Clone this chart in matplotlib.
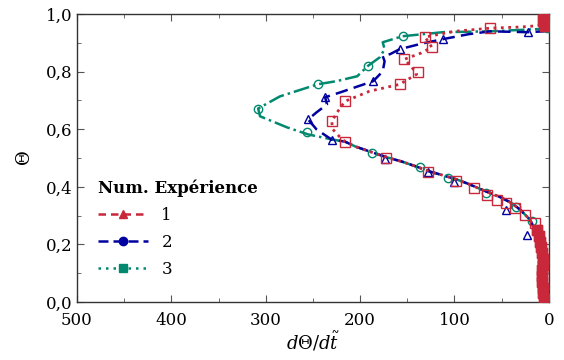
import matplotlib
matplotlib.use("Agg")
import matplotlib.pyplot as plt
from matplotlib.lines import Line2D
from matplotlib.ticker import MultipleLocator, FuncFormatter

plt.rcParams['font.family'] = ['DejaVu Serif']
plt.rcParams['mathtext.fontset'] = 'dejavuserif'

RED = '#c8283a'
BLUE = '#0000a0'
GREEN = '#00896f'

# shared lower branch of numerical curves (dTheta/dt, Theta)
low_x = [3, 5, 6, 7, 9, 13, 20, 30, 40, 52, 62, 73, 85, 97, 112, 126, 140, 155, 172, 190, 205, 216]
low_y = [0.0, 0.05, 0.10, 0.15, 0.20, 0.24, 0.286, 0.32, 0.345, 0.365, 0.378, 0.393, 0.41, 0.425,
         0.44, 0.453, 0.47, 0.487, 0.503, 0.523, 0.54, 0.557]

# series 1 (red)
num1_x = low_x + [222, 229, 230, 224, 216, 190, 158, 140, 145, 153, 135, 124, 131, 100, 62, 30, 10, 5, 3, 2]
num1_y = low_y + [0.575, 0.60, 0.627, 0.66, 0.697, 0.732, 0.756, 0.791, 0.815, 0.843, 0.865, 0.885,
                  0.92, 0.94, 0.951, 0.955, 0.96, 0.97, 0.98, 1.0]
exp1_x = [5, 6, 6, 7, 7, 7, 6, 6, 7, 8, 9, 10, 12, 15, 25, 36, 45, 55, 65, 79, 98, 128, 172, 216,
          230, 216, 158, 139, 153, 124, 131, 62, 4, 5, 6, 4, 5]
exp1_y = [0.01, 0.03, 0.05, 0.07, 0.09, 0.11, 0.13, 0.15, 0.17, 0.19, 0.21, 0.23, 0.25, 0.275, 0.303,
          0.328, 0.345, 0.355, 0.373, 0.397, 0.42, 0.453, 0.50, 0.557, 0.627, 0.697, 0.756, 0.798,
          0.843, 0.885, 0.92, 0.951, 0.96, 0.97, 0.98, 0.99, 1.0]

# series 2 (blue)
num2_x = low_x + [230, 246, 255, 246, 235, 237, 221, 186, 176, 174, 176, 168, 158, 135, 112, 85, 62,
                  22, 5, 2, 1]
num2_y = low_y + [0.564, 0.599, 0.634, 0.659, 0.686, 0.711, 0.728, 0.767, 0.801, 0.836, 0.854, 0.861,
                  0.878, 0.897, 0.913, 0.93, 0.94, 0.937, 0.94, 0.96, 1.0]
exp2_x = [4, 6, 8, 23, 45, 100, 128, 174, 230, 255, 237, 186, 158, 112, 22]
exp2_y = [0.05, 0.12, 0.19, 0.233, 0.32, 0.418, 0.45, 0.495, 0.564, 0.634, 0.711, 0.767, 0.878, 0.913, 0.937]

# series 3 (green)
num3_x = low_x + [229, 255, 277, 306, 308, 285, 245, 225, 203, 192, 179, 174, 176, 155, 112, 62, 10, 3, 1]
num3_y = low_y + [0.564, 0.582, 0.606, 0.645, 0.672, 0.714, 0.756, 0.767, 0.784, 0.819, 0.85, 0.878,
                  0.902, 0.923, 0.937, 0.94, 0.948, 0.96, 1.0]
exp3_x = [5, 7, 10, 18, 35, 66, 107, 137, 187, 256, 308, 245, 192, 155, 2]
exp3_y = [0.06, 0.14, 0.22, 0.28, 0.33, 0.38, 0.43, 0.47, 0.519, 0.589, 0.672, 0.756, 0.819, 0.923, 0.95]

legend_labels = ['1', '2', '3']

fig = plt.figure(figsize=(5.64, 3.6), dpi=100)
ax = fig.add_axes([0.1365, 0.161, 0.8365, 0.8])

ax.plot(num3_x, num3_y, color=GREEN, ls='-.', lw=1.8, zorder=2)
ax.plot(exp3_x, exp3_y, ls='none', marker='o', ms=6, mfc='none', mec=GREEN, mew=1.0, zorder=3)
ax.plot(num2_x, num2_y, color=BLUE, ls=(0, (5, 2.5)), lw=1.8, zorder=2)
ax.plot(exp2_x, exp2_y, ls='none', marker='^', ms=6, mfc='none', mec=BLUE, mew=1.0, zorder=3)
ax.plot(num1_x, num1_y, color=RED, ls=':', lw=2.0, zorder=4)
ax.plot(exp1_x, exp1_y, ls='none', marker='s', ms=6.5, mfc='none', mec=RED, mew=1.0, zorder=5)
# dense overlapping experimental markers near zero
ax.plot(exp1_x[:13], exp1_y[:13], ls='none', marker='s', ms=7.5, mfc=RED, mec=RED, mew=1.0, zorder=5)
ax.plot(exp1_x[-5:], exp1_y[-5:], ls='none', marker='s', ms=7.5, mfc=RED, mec=RED, mew=1.0, zorder=5)

ax.set_xlim(500, 0)
ax.set_ylim(0, 1.0)
ax.xaxis.set_major_locator(MultipleLocator(100))
ax.xaxis.set_minor_locator(MultipleLocator(50))
ax.yaxis.set_major_locator(MultipleLocator(0.2))
ax.yaxis.set_minor_locator(MultipleLocator(0.1))
ax.yaxis.set_major_formatter(FuncFormatter(lambda v, p: f"{v:.1f}".replace('.', ',')))
ax.xaxis.set_major_formatter(FuncFormatter(lambda v, p: f"{v:.0f}"))
ax.tick_params(which='both', direction='in', top=True, right=True, labelsize=12, color='#555555')
ax.tick_params(which='major', length=5)
ax.tick_params(which='minor', length=3)
ax.tick_params(axis='x', which='major', pad=7)
for s in ax.spines.values():
    s.set_color('#333333')
    s.set_linewidth(1.0)

ax.set_xlabel(r'$d\Theta/d\tilde{t}$', fontsize=13, labelpad=1)
ax.set_ylabel(r'$\Theta$', fontsize=13, labelpad=8)

handles = [
    Line2D([], [], color=RED, ls=(0, (3, 2)), lw=1.8, marker='^', ms=6, mfc=RED, mec=RED),
    Line2D([], [], color=BLUE, ls=(0, (4, 2)), lw=1.8, marker='o', ms=6, mfc=BLUE, mec=BLUE),
    Line2D([], [], color=GREEN, ls=(0, (1, 2)), lw=1.8, marker='s', ms=6, mfc=GREEN, mec=GREEN),
]
leg = ax.legend(handles, legend_labels, title='Num. Expérience', loc='upper left',
                bbox_to_anchor=(0.02, 0.465), frameon=False, fontsize=12,
                title_fontproperties={'weight': 'bold', 'size': 12},
                alignment='left', handlelength=3.0, labelspacing=0.6, borderpad=0.2)

fig.savefig('out.png', dpi=100)
